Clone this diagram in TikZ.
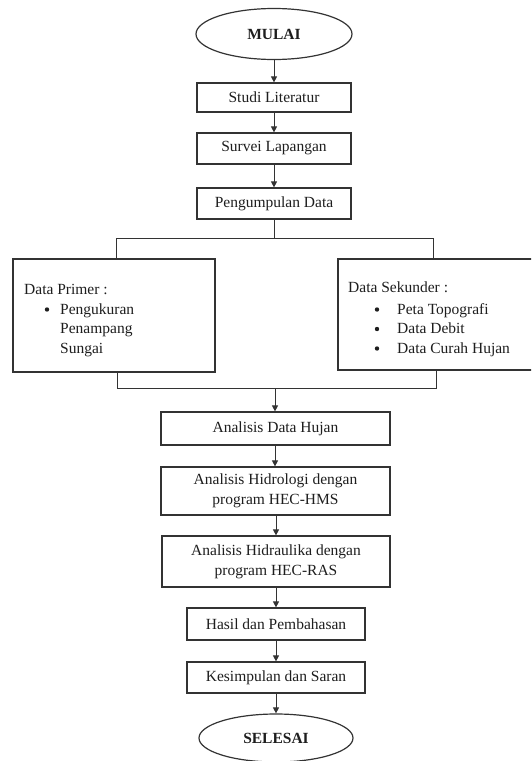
\documentclass[tikz,border=0pt]{standalone}
\usepackage{fontspec}
\setmainfont{Liberation Serif}
\usetikzlibrary{arrows.meta,shapes.geometric}
\definecolor{ink}{HTML}{1E1E1E}
\definecolor{linecol}{HTML}{333333}
\begin{document}
\begin{tikzpicture}[x=1pt,y=-1pt,
  every node/.style={font=\fontsize{15.5}{20}\selectfont, text=ink, inner sep=0pt},
  box/.style={draw=linecol, line width=1.2pt, rectangle, align=center},
  term/.style={draw=linecol, line width=1.2pt, ellipse, font=\fontsize{15.5}{20}\selectfont\bfseries},
  conn/.style={draw=linecol, line width=1pt},
  arr/.style={conn, -{Triangle[length=6pt,width=6pt]}},
  txt/.style={anchor=base west},
  bul/.style={circle, fill=ink, minimum size=4.4pt}
]
\clip (0,0) rectangle (531,761);
\fill[white] (0,0) rectangle (531,761);

\node[term, minimum width=156pt, minimum height=51pt] (mulai) at (274,34) {MULAI};
\node[box, minimum width=154pt, minimum height=29pt] (studi) at (274,97.5) {Studi Literatur};
\node[box, minimum width=154pt, minimum height=31pt] (survei) at (274,148.5) {Survei Lapangan};
\node[box, minimum width=154pt, minimum height=31pt] (kumpul) at (274,203.5) {Pengumpulan Data};

\node[box, minimum width=202pt, minimum height=113pt] (primer) at (114,315.5) {};
\node[box, minimum width=202pt, minimum height=111pt] (sekunder) at (439,314.5) {};

\node[txt] (p1) at (24,294) {Data Primer :};
\node[bul] (pb) at (47,309.5) {};
\node[txt] (p2) at (60,314) {Pengukuran};
\node[txt] (p3) at (60,333.5) {Penampang};
\node[txt] (p4) at (60,353) {Sungai};

\node[txt] (s1) at (348,292) {Data Sekunder :};
\node[bul] (sb1) at (377,309.5) {};
\node[txt] (s2) at (397,314) {Peta Topografi};
\node[bul] (sb2) at (377,329) {};
\node[txt] (s3) at (397,333.5) {Data Debit};
\node[bul] (sb3) at (377,348.5) {};
\node[txt] (s4) at (397,353) {Data Curah Hujan};

\node[box, minimum width=229pt, minimum height=33pt] (hujan) at (275.5,428.5) {Analisis Data Hujan};
\node[box, minimum width=229pt, minimum height=48pt] (hidro) at (275.5,491) {Analisis Hidrologi dengan\\program HEC-HMS};
\node[box, minimum width=228pt, minimum height=51pt] (hidra) at (276,561.5) {Analisis Hidraulika dengan\\program HEC-RAS};
\node[box, minimum width=178pt, minimum height=32pt] (hasil) at (276,624) {Hasil dan Pembahasan};
\node[box, minimum width=178pt, minimum height=31pt] (kesim) at (276,677.5) {Kesimpulan dan Saran};
\node[term, minimum width=154pt, minimum height=48pt] (selesai) at (276,738) {SELESAI};

\coordinate (splitc) at (274,238);
\coordinate (splitl) at (116,238);
\coordinate (splitr) at (433,238);
\coordinate (mergel) at (117,388);
\coordinate (merger) at (436,388);
\coordinate (mergec) at (275,388);

\draw[arr] (mulai.south) -- (studi.north);
\draw[arr] (studi.south) -- (survei.north);
\draw[arr] (survei.south) -- (kumpul.north);
\draw[conn] (kumpul.south) -- (splitc);
\draw[conn] (splitl |- primer.north) -- (splitl) -- (splitr) -- (splitr |- sekunder.north);
\draw[conn] (mergel |- primer.south) -- (mergel) -- (merger) -- (merger |- sekunder.south);
\draw[arr] (mergec) -- (mergec |- hujan.north);
\draw[arr] (hujan.south -| mergec) -- (mergec |- hidro.north);
\draw[arr] (hidro.south -| hidra.south) -- (hidra.north);
\draw[arr] (hidra.south) -- (hasil.north);
\draw[arr] (hasil.south) -- (kesim.north);
\draw[arr] (kesim.south) -- (selesai.north);
\end{tikzpicture}
\end{document}
